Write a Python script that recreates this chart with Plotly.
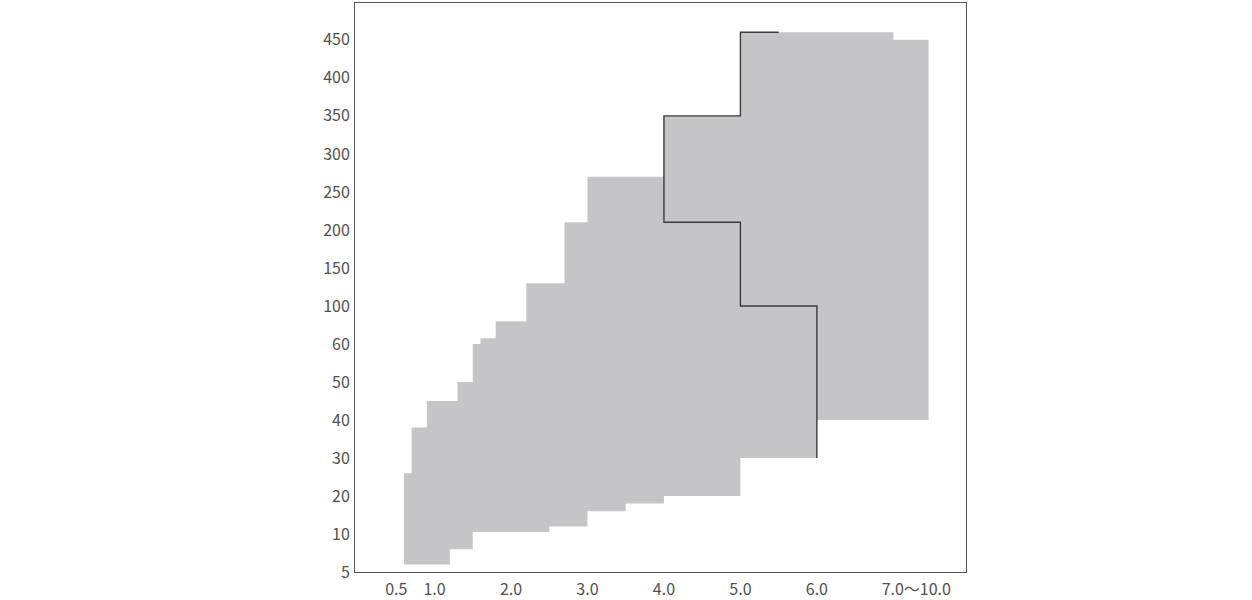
import numpy as np
import plotly.graph_objects as go

# Y axis: category-like scale, labels evenly spaced
Y_TICK_VALUES = [5, 10, 20, 30, 40, 50, 60, 100, 150, 200, 250, 300, 350, 400, 450]
Y_TICK_LABELS = [str(v) for v in Y_TICK_VALUES]

# X axis ticks
X_TICK_VALUES = [0.5, 1.0, 2.0, 3.0, 4.0, 5.0, 6.0, 7.3]
X_TICK_LABELS = ["0.5", "1.0", "2.0", "3.0", "4.0", "5.0", "6.0", "7.0〜10.0"]

# Grey region: segment edges along x, with upper and lower value per segment
SEG_X_EDGES = [0.6, 0.7, 0.9, 1.2, 1.3, 1.5, 1.6, 1.8, 2.2, 2.5, 2.7, 3.0, 3.5, 4.0, 5.0, 6.0, 7.0, 7.46]
SEG_UPPER = [26, 38, 45, 45, 50, 60, 66, 84, 130, 130, 210, 270, 270, 350, 460, 460, 450]
SEG_LOWER = [6, 6, 6, 8, 8, 10.5, 10.5, 10.5, 10.5, 12, 12, 16, 18, 20, 30, 40, 40]

# Dark boundary line
LINE_X = [5.5, 5.0, 5.0, 4.0, 4.0, 5.0, 5.0, 6.0, 6.0]
LINE_Y = [460, 460, 350, 350, 210, 210, 100, 100, 30]


def ypos(v):
    vals = Y_TICK_VALUES + [500]
    pos = list(range(len(Y_TICK_VALUES))) + [len(Y_TICK_VALUES)]
    return float(np.interp(v, vals, pos))


poly_x, poly_y = [], []
for i in range(len(SEG_UPPER)):
    x0, x1 = SEG_X_EDGES[i], SEG_X_EDGES[i + 1]
    poly_x += [x0, x1]
    poly_y += [ypos(SEG_UPPER[i]), ypos(SEG_UPPER[i])]
for i in reversed(range(len(SEG_LOWER))):
    x0, x1 = SEG_X_EDGES[i], SEG_X_EDGES[i + 1]
    poly_x += [x1, x0]
    poly_y += [ypos(SEG_LOWER[i]), ypos(SEG_LOWER[i])]

fig = go.Figure()
fig.add_trace(go.Scatter(
    x=poly_x, y=poly_y, mode="lines", fill="toself",
    fillcolor="#c5c5c7", line=dict(width=0, color="#c5c5c7"),
    hoverinfo="skip", showlegend=False,
))
fig.add_trace(go.Scatter(
    x=LINE_X, y=[ypos(v) for v in LINE_Y], mode="lines",
    line=dict(color="#3a3a3a", width=1.4),
    hoverinfo="skip", showlegend=False,
))

font = dict(family="Noto Sans CJK JP, Noto Sans, sans-serif", size=16, color="#505050")

fig.update_layout(
    width=1252, height=600,
    margin=dict(l=355, r=286, t=3, b=28),
    paper_bgcolor="white", plot_bgcolor="white",
    font=font,
    showlegend=False,
    xaxis=dict(
        range=[-0.04, 7.95], tickvals=X_TICK_VALUES, ticktext=X_TICK_LABELS,
        showgrid=False, zeroline=False, showline=True, mirror=True,
        linecolor="#555555", linewidth=1, ticks="", tickfont=font,
        ticklabelstandoff=3, automargin=False,
    ),
    yaxis=dict(
        range=[0, 14.97], tickvals=list(range(len(Y_TICK_VALUES))), ticktext=Y_TICK_LABELS,
        showgrid=False, zeroline=False, showline=True, mirror=True,
        linecolor="#555555", linewidth=1, ticks="", tickfont=font,
        ticklabelstandoff=1, automargin=False,
    ),
)

fig.write_html(
    "out.html",
    config={"displayModeBar": False},
    post_script="document.body.style.margin='0px';document.body.style.padding='0px';",
)
